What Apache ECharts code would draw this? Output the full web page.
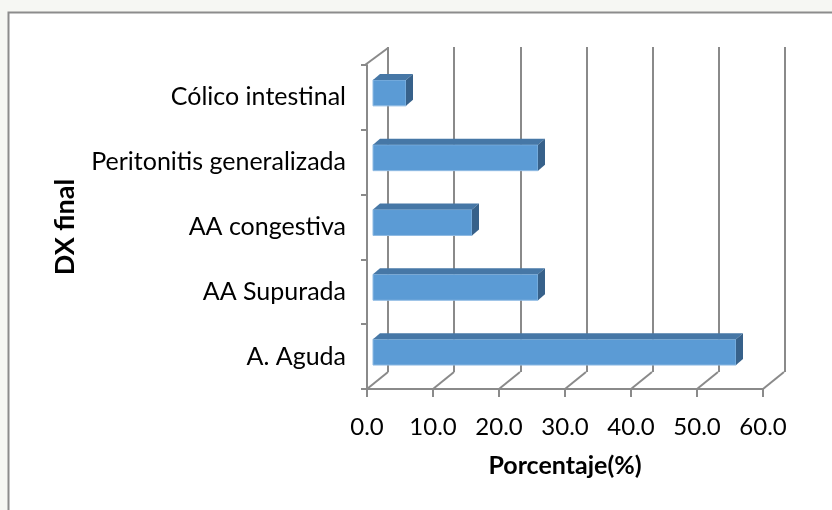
<!DOCTYPE html>
<html>
<head>
<meta charset="utf-8">
<script src="https://cdn.jsdelivr.net/npm/echarts@6/dist/echarts.min.js"></script>
<style>
html,body{margin:0;padding:0;background:#f6f7f3;}
#c{width:832px;height:510px;}
</style>
</head>
<body>
<div id="c"></div>
<script>
// Data (bottom to top, as in the source chart)
var categories = ["A. Aguda", "AA Supurada", "AA congestiva", "Peritonitis generalizada", "Cólico intestinal"];
var values = [55, 25, 15, 25, 5];
var xTicks = [0, 10, 20, 30, 40, 50, 60];
var xAxisTitle = "Porcentaje(%)";
var yAxisTitle = "DX final";

var FONT = "Lato";
var GRID_COLOR = "#8a8a8a";
var DEPTH_X = 21, DEPTH_Y = -17;      // wall depth offset
var BAR_OFF_X = 6, BAR_OFF_Y = -4.5;  // bar front face offset
var BAR_DX = 7, BAR_DY = -6;          // bar depth

var chart = echarts.init(document.getElementById('c'), null, {renderer: 'canvas'});

function floorRender(params, api) {
  var cs = params.coordSys;
  var v = api.value(0);
  var x = api.coord([v, 0])[0];
  var yb = cs.y + cs.height;
  var children = [{
    type: 'line',
    shape: {x1: x, y1: yb, x2: x + DEPTH_X, y2: yb + DEPTH_Y},
    style: {stroke: GRID_COLOR, lineWidth: 2}
  }];
  if (params.dataIndex === 0) {
    children.push({
      type: 'line',
      shape: {x1: cs.x - 2, y1: cs.y, x2: cs.x - 2 + DEPTH_X + 2, y2: cs.y + DEPTH_Y},
      style: {stroke: GRID_COLOR, lineWidth: 2}
    });
  }
  return {type: 'group', children: children};
}

function barRender(params, api) {
  var idx = api.value(1);
  var v = api.value(0);
  var p0 = api.coord([0, idx]);
  var p1 = api.coord([v, idx]);
  var band = api.size([0, 1])[1];
  var h = band * 0.4;
  var x0 = p0[0] + BAR_OFF_X, x1 = p1[0] + BAR_OFF_X;
  var yt = p0[1] + BAR_OFF_Y - h / 2, yb = yt + h;
  return {
    type: 'group',
    children: [
      {type: 'rect', shape: {x: x0, y: yt, width: x1 - x0, height: h},
       style: {fill: '#5b9bd5', stroke: '#8fbbe3', lineWidth: 1}},
      {type: 'polygon', shape: {points: [[x0, yt], [x0 + BAR_DX, yt + BAR_DY], [x1 + BAR_DX, yt + BAR_DY], [x1, yt]]},
       style: {fill: '#4677a6'}},
      {type: 'polygon', shape: {points: [[x1, yt], [x1 + BAR_DX, yt + BAR_DY], [x1 + BAR_DX, yb + BAR_DY], [x1, yb]]},
       style: {fill: '#37618a'}}
    ]
  };
}

var option = {
  animation: false,
  graphic: [{
    type: 'rect', z: -10,
    shape: {x: 8.5, y: 12.5, width: 840, height: 520},
    style: {fill: '#ffffff', stroke: '#8c8c8c', lineWidth: 2}
  }],
  grid: [
    {left: 388, top: 47, width: 397, height: 325},
    {left: 367, top: 65, width: 396, height: 324}
  ],
  xAxis: [
    {gridIndex: 0, type: 'value', min: 0, max: 60, interval: 10,
     axisLine: {show: false}, axisTick: {show: false}, axisLabel: {show: false},
     splitLine: {show: true, lineStyle: {color: GRID_COLOR, width: 2}}},
    {gridIndex: 1, type: 'value', min: 0, max: 60, interval: 10,
     axisLine: {show: true, onZero: false, lineStyle: {color: GRID_COLOR, width: 2}},
     axisTick: {show: true, length: 8, lineStyle: {color: GRID_COLOR, width: 2}},
     splitLine: {show: false},
     axisLabel: {margin: 26, fontFamily: FONT, fontSize: 24, color: '#000',
       formatter: function (v) { return v.toFixed(1); }},
     name: xAxisTitle, nameLocation: 'middle', nameGap: 64,
     nameTextStyle: {fontFamily: FONT, fontSize: 25, fontWeight: 'bold', color: '#000'}}
  ],
  yAxis: [
    {gridIndex: 0, type: 'category', data: categories, show: false},
    {gridIndex: 1, type: 'category', data: categories,
     axisLine: {show: true, lineStyle: {color: GRID_COLOR, width: 2}},
     axisTick: {show: true, length: 6, lineStyle: {color: GRID_COLOR, width: 2}},
     axisLabel: {margin: 21, fontFamily: FONT, fontSize: 25, color: '#000'},
     splitLine: {show: false},
     name: yAxisTitle, nameLocation: 'middle', nameGap: 288, nameRotate: 90,
     nameTextStyle: {fontFamily: FONT, fontSize: 27, fontWeight: 'bold', color: '#000'}}
  ],
  series: [
    {type: 'custom', xAxisIndex: 1, yAxisIndex: 1, renderItem: floorRender,
     data: xTicks.map(function (t) { return [t, 0]; }), z: 1, silent: true},
    {type: 'custom', xAxisIndex: 1, yAxisIndex: 1, renderItem: barRender,
     data: values.map(function (v, i) { return [v, i]; }), z: 5}
  ]
};
chart.setOption(option);
</script>
</body>
</html>
